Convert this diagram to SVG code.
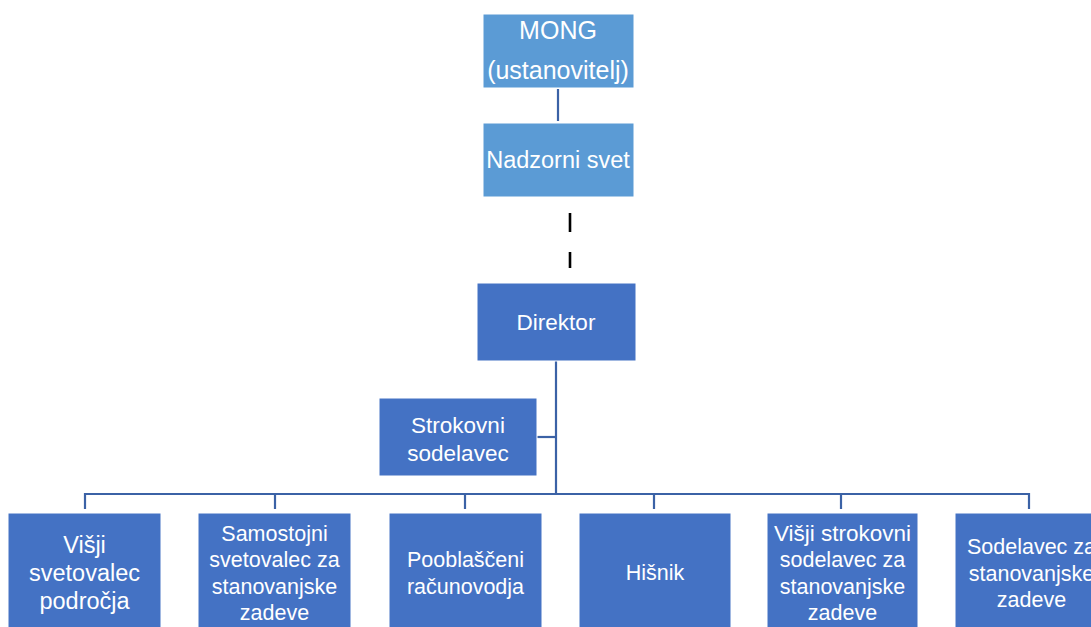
<svg xmlns="http://www.w3.org/2000/svg" width="1091" height="627" viewBox="0 0 1091 627">
<style>
.light{fill:#5B9BD5;stroke:#ffffff;stroke-width:1}
.dark{fill:#4472C4;stroke:#ffffff;stroke-width:1}
text{font-family:"Liberation Sans",Arial,sans-serif;fill:#ffffff;text-anchor:middle}
.big{font-size:25px}
.nad{font-size:23.5px}
.mid{font-size:22.5px}
.sm{font-size:21.5px}
.conn{stroke:#3B62A6;stroke-width:2.2;fill:none}
.dash{stroke:#000000;stroke-width:2.6;fill:none}
</style>
<rect width="1091" height="627" fill="#ffffff"/>
<g id="connectors">
<line class="conn" x1="558" y1="89" x2="558" y2="121"/>
<line class="dash" x1="570" y1="213" x2="570" y2="232"/>
<line class="dash" x1="570" y1="252" x2="570" y2="268"/>
<line class="conn" x1="556" y1="361" x2="556" y2="494"/>
<line class="conn" x1="537" y1="437" x2="556" y2="437"/>
<polyline class="conn" points="85,509 85,494 1029,494 1029,509"/>
<line class="conn" x1="275" y1="494" x2="275" y2="509"/>
<line class="conn" x1="465" y1="494" x2="465" y2="509"/>
<line class="conn" x1="654" y1="494" x2="654" y2="509"/>
<line class="conn" x1="841" y1="494" x2="841" y2="509"/>
</g>
<g id="mong">
<rect class="light" x="483" y="14" width="151" height="74"/>
<text class="big" x="558" y="39">MONG</text>
<text class="big" x="558" y="79">(ustanovitelj)</text>
</g>
<g id="nadzorni">
<rect class="light" x="483" y="123" width="151" height="74"/>
<text class="nad" x="558" y="168">Nadzorni svet</text>
</g>
<g id="direktor">
<rect class="dark" x="477" y="283" width="159" height="78"/>
<text class="mid" x="556" y="330">Direktor</text>
</g>
<g id="strokovni">
<rect class="dark" x="379" y="398" width="158" height="78"/>
<text class="mid" x="458" y="433">Strokovni</text>
<text class="mid" x="458" y="461">sodelavec</text>
</g>
<g id="visji-svetovalec">
<rect class="dark" x="8" y="513" width="153" height="120"/>
<text class="nad" x="84.5" y="553">Višji</text>
<text class="nad" x="84.5" y="581">svetovalec</text>
<text class="nad" x="84.5" y="609">področja</text>
</g>
<g id="samostojni">
<rect class="dark" x="198" y="513" width="153" height="120"/>
<text class="sm" x="274.5" y="541">Samostojni</text>
<text class="sm" x="274.5" y="567">svetovalec za</text>
<text class="sm" x="274.5" y="594">stanovanjske</text>
<text class="sm" x="274.5" y="620">zadeve</text>
</g>
<g id="racunovodja">
<rect class="dark" x="389" y="513" width="153" height="120"/>
<text class="sm" x="465.5" y="567">Pooblaščeni</text>
<text class="sm" x="465.5" y="594">računovodja</text>
</g>
<g id="hisnik">
<rect class="dark" x="579" y="513" width="152" height="120"/>
<text class="sm" x="655" y="580">Hišnik</text>
</g>
<g id="visji-strokovni">
<rect class="dark" x="767" y="513" width="151" height="120"/>
<text class="mid" x="842.5" y="541">Višji strokovni</text>
<text class="sm" x="842.5" y="567">sodelavec za</text>
<text class="sm" x="842.5" y="594">stanovanjske</text>
<text class="sm" x="842.5" y="620">zadeve</text>
</g>
<g id="sodelavec">
<rect class="dark" x="955" y="513" width="153" height="120"/>
<text class="sm" x="1031.5" y="554">Sodelavec za</text>
<text class="sm" x="1031.5" y="581">stanovanjske</text>
<text class="sm" x="1031.5" y="607">zadeve</text>
</g>
</svg>
